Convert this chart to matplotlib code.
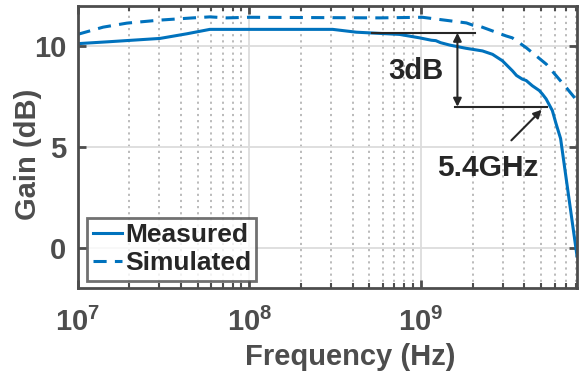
import matplotlib
matplotlib.use("Agg")
import matplotlib.pyplot as plt
import numpy as np
from matplotlib.ticker import LogLocator, NullFormatter

plt.rcParams['font.family'] = ['Liberation Sans', 'DejaVu Sans']
plt.rcParams['font.weight'] = 'bold'
plt.rcParams['mathtext.fontset'] = 'custom'
plt.rcParams['mathtext.bf'] = 'Liberation Sans:bold'
plt.rcParams['mathtext.rm'] = 'Liberation Sans:bold'

# Data
meas_freq = [1e7, 1.55e7, 3.02e7, 4.33e7, 5.9e7, 3.06e8, 4.2e8, 5.74e8, 7.5e8, 9.8e8,
             1.15e9, 1.22e9, 1.3e9, 1.47e9, 1.83e9, 2.28e9, 2.61e9, 2.98e9, 3.41e9,
             3.6e9, 3.89e9, 4.1e9, 4.45e9, 4.89e9, 5.1e9, 5.35e9, 5.82e9, 6.11e9,
             6.5e9, 8.1e9]
meas_gain = [10.13, 10.23, 10.39, 10.62, 10.84, 10.84, 10.70, 10.64, 10.59, 10.42,
             10.30, 10.28, 10.18, 10.06, 9.90, 9.77, 9.60, 9.28, 8.78,
             8.55, 8.37, 8.30, 8.04, 7.80, 7.62, 7.39, 6.81, 6.17,
             5.42, -0.41]
sim_freq = [1e7, 1.41e7, 1.94e7, 3.02e7, 4.7e7, 5.9e7, 7.4e7, 1e8, 5.74e8, 1.02e9,
            1.84e9, 2.0e9, 2.19e9, 3.14e9, 3.4e9, 4.1e9, 5.37e9, 7.0e9, 8.1e9]
sim_gain = [10.59, 10.95, 11.15, 11.30, 11.41, 11.46, 11.41, 11.44, 11.41, 11.44,
            11.16, 11.05, 11.0, 10.51, 10.42, 9.93, 9.11, 7.96, 7.3]

xticks = [1e7, 1e8, 1e9]
xticklabels = [r'$\mathbf{10^{7}}$', r'$\mathbf{10^{8}}$', r'$\mathbf{10^{9}}$']
yticks = [0, 5, 10]
series_names = ['Measured', 'Simulated']

upper_level = 10.67
lower_level = 7.0
f3db = 5.4e9

blue = '#0072BD'
gray = '#4d4d4d'
dark = '#262626'

fig = plt.figure(figsize=(5.79, 3.80), dpi=100)
ax = fig.add_axes([77.5/579, 1-288/380, (577-77.5)/579, (288-6)/380])

ax.plot(meas_freq, meas_gain, color=blue, lw=2.2, label=series_names[0])
ax.plot(sim_freq, sim_gain, color=blue, lw=2.2, ls=(0, (4.3, 2.7)), label=series_names[1])

ax.set_xscale('log')
ax.set_xlim(1e7, 8.1e9)
ax.set_ylim(-2, 12)
ax.set_xticks(xticks)
ax.set_xticklabels(xticklabels)
ax.xaxis.set_minor_locator(LogLocator(base=10, subs=np.arange(2, 10)))
ax.xaxis.set_minor_formatter(NullFormatter())
ax.set_yticks(yticks)

ax.grid(True, which='major', color='#dcdcdc', lw=1.3, ls='-')
ax.grid(True, which='minor', axis='x', color='#b5b5b5', lw=1.3, ls=(0, (1.2, 2.2)))
ax.set_axisbelow(True)

for s in ax.spines.values():
    s.set_color(gray)
    s.set_linewidth(2.0)
ax.tick_params(which='both', direction='in', top=True, right=True, colors=gray)
ax.tick_params(which='major', length=6, width=2, labelsize=21)
ax.tick_params(which='minor', length=3.5, width=1.5)
ax.tick_params(axis='x', pad=14)
ax.tick_params(axis='y', pad=8)
for lbl in ax.get_xticklabels() + ax.get_yticklabels():
    lbl.set_color(gray)
    lbl.set_fontweight('bold')

ax.set_xlabel('Frequency (Hz)', fontsize=21, fontweight='bold', color=gray, va='baseline')
ax.xaxis.set_label_coords((350 - 77.5) / 499.5, (288 - 365) / 282)
ax.set_ylabel('Gain (dB)', fontsize=21, fontweight='bold', color=gray, va='center')
ax.yaxis.set_label_coords((28 - 77.5) / 499.5, (288 - 154) / 282)

# annotations
ax.plot([5.22e8, 2.05e9], [upper_level, upper_level], color=dark, lw=1.5)
ax.plot([1.57e9, f3db], [lower_level, lower_level], color=dark, lw=1.5)
ax.annotate('', xy=(1.63e9, lower_level), xytext=(1.63e9, upper_level),
            arrowprops=dict(arrowstyle='<|-|>', color=dark, lw=1.5, mutation_scale=12,
                            shrinkA=0, shrinkB=0))
ax.text(9.3e8, 8.78, '3dB', fontsize=21, fontweight='bold', color=dark, ha='center', va='center')
ax.annotate('', xy=(5.05e9, 6.85), xytext=(3.36e9, 5.33),
            arrowprops=dict(arrowstyle='-|>', color=dark, lw=1.5, mutation_scale=12,
                            shrinkA=0, shrinkB=0))
ax.text(2.44e9, 3.95, '5.4GHz', fontsize=21.5, fontweight='bold', color=dark, ha='center', va='center')

leg = ax.legend(loc='lower left', bbox_to_anchor=(0.02, 0.026), borderaxespad=0,
                fontsize=19, frameon=True, fancybox=False, edgecolor=gray,
                handlelength=1.1, handletextpad=0.12, borderpad=0.2, labelspacing=0.15)
leg.get_frame().set_linewidth(2.0)
for t in leg.get_texts():
    t.set_color(dark)
    t.set_fontweight('bold')

fig.savefig('out.png', dpi=100)
